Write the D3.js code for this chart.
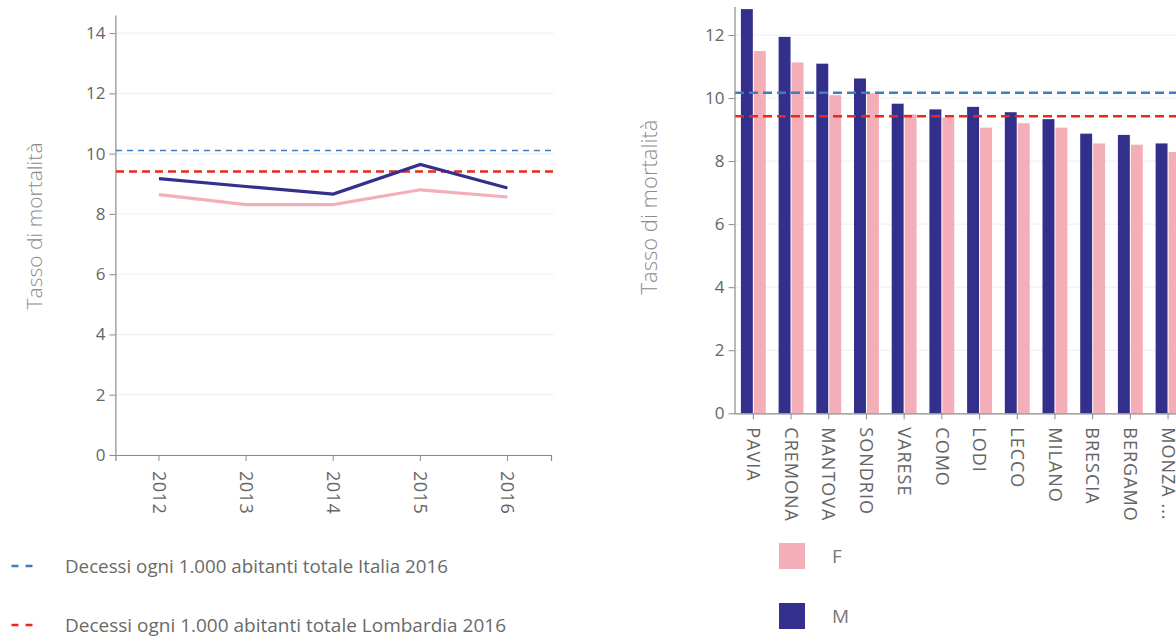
<!DOCTYPE html>
<html><head><meta charset="utf-8">
<script src="https://cdn.jsdelivr.net/npm/d3@7"></script>
<style>
html,body{margin:0;padding:0;background:#fff;overflow:hidden}
text{font-family:"Open Sans",sans-serif}
</style></head>
<body><svg id="c" width="1176" height="636"></svg>
<script>
// ---- data ----
const years = ["2012","2013","2014","2015","2016"];
const trendM = [9.17, 8.91, 8.66, 9.64, 8.86];
const trendF = [8.64, 8.31, 8.31, 8.80, 8.56];
const provinces = ["PAVIA","CREMONA","MANTOVA","SONDRIO","VARESE","COMO","LODI","LECCO","MILANO","BRESCIA","BERGAMO","MONZA ..."];
const provM = [12.82, 11.94, 11.09, 10.62, 9.82, 9.64, 9.72, 9.55, 9.33, 8.87, 8.83, 8.56];
const provF = [11.49, 11.13, 10.09, 10.15, 9.48, 9.38, 9.06, 9.20, 9.06, 8.56, 8.52, 8.29];
const refItalia = [10.1, 10.17];      // left chart, right chart
const refLombardia = [9.41, 9.42];
const leftTicks = [0,2,4,6,8,10,12,14];
const rightTicks = [0,2,4,6,8,10,12];
const legendLabels = ["Decessi ogni 1.000 abitanti totale Italia 2016","Decessi ogni 1.000 abitanti totale Lombardia 2016"];
const sexLabels = ["F","M"];

const COL_M = "#332f8c", COL_F = "#f4aeb8", COL_IT = "#3f7dc0", COL_LO = "#e8291c";
const svg = d3.select("#c");

function styleAxis(g, fs){
  g.selectAll("path.domain").attr("stroke","#8a8a8a").attr("stroke-width",1.2);
  g.selectAll(".tick line").attr("stroke","#8a8a8a");
  g.selectAll(".tick text").attr("fill","#666").style("font-size",fs+"px").style("font-family","'Open Sans',sans-serif");
}

// ---------- LEFT CHART ----------
{
  const x = d3.scaleBand().domain(years).range([115.4, 551]);
  const y = d3.scaleLinear().domain([0, 14.6]).range([455, 15]);
  svg.append("g").selectAll("line").data(leftTicks.slice(1)).join("line")
    .attr("x1",116).attr("x2",554).attr("y1",d=>y(d)).attr("y2",d=>y(d))
    .attr("stroke","#eeeeee").attr("stroke-width",1);
  const ya = svg.append("g").attr("transform","translate(115.4,0)")
    .call(d3.axisLeft(y).tickValues(leftTicks).tickSizeOuter(0).tickPadding(4));
  styleAxis(ya, 17);
  const xa = svg.append("g").attr("transform","translate(0,455)")
    .call(d3.axisBottom(x).tickSizeOuter(6).tickPadding(8));
  styleAxis(xa, 18);
  xa.selectAll(".tick text").attr("transform","rotate(90)").attr("text-anchor","start")
    .attr("x",16).attr("y",0).attr("dy","0.35em").style("letter-spacing","0.5px");
  // ref lines
  svg.append("line").attr("x1",116).attr("x2",554).attr("y1",y(refItalia[0])).attr("y2",y(refItalia[0]))
    .attr("stroke",COL_IT).attr("stroke-width",1.5).attr("stroke-dasharray","6,5");
  svg.append("line").attr("x1",116).attr("x2",554).attr("y1",y(refLombardia[0])).attr("y2",y(refLombardia[0]))
    .attr("stroke",COL_LO).attr("stroke-width",2.5).attr("stroke-dasharray","8,5");
  const line = d3.line().x((d,i)=>x(years[i])+x.bandwidth()/2).y(d=>y(d));
  svg.append("path").datum(trendF).attr("d",line).attr("fill","none").attr("stroke",COL_F).attr("stroke-width",3.2);
  svg.append("path").datum(trendM).attr("d",line).attr("fill","none").attr("stroke",COL_M).attr("stroke-width",3.2);
  svg.append("text").attr("transform","translate(42,226) rotate(-90)").attr("text-anchor","middle")
    .attr("fill","#8c8c8c").style("font-size","21px").style("font-weight","300").text("Tasso di mortalità");
  // legend
  const lg = svg.append("g");
  [COL_IT, COL_LO].forEach((c,i)=>{
    const yy = [566, 625][i];
    lg.append("line").attr("x1",11.5).attr("x2",38.5).attr("y1",yy).attr("y2",yy)
      .attr("stroke",c).attr("stroke-width",2.5).attr("stroke-dasharray","7,7");
    lg.append("text").attr("x",65).attr("y",yy+6.5).attr("fill","#6a6a6a").style("font-size","18px")
      .attr("textLength",[383,441][i]).attr("lengthAdjust","spacingAndGlyphs").text(legendLabels[i]);
  });
}

// ---------- RIGHT CHART ----------
{
  const x0 = d3.scaleBand().domain(provinces).range([734.5, 734.5+12*37.7]).paddingInner(0.34).paddingOuter(0.17);
  const x1 = d3.scaleBand().domain(["M","F"]).range([0, x0.bandwidth()]).paddingInner(0.08);
  const y = d3.scaleLinear().domain([0, 12.9]).range([413.3, 6.6]);
  svg.append("g").selectAll("line").data(rightTicks.slice(1)).join("line")
    .attr("x1",736).attr("x2",1200).attr("y1",d=>y(d)).attr("y2",d=>y(d))
    .attr("stroke","#eeeeee").attr("stroke-width",1);
  const bars = svg.append("g").selectAll("g").data(provinces).join("g")
    .attr("transform",d=>`translate(${x0(d)},0)`);
  bars.append("rect").attr("x",x1("M")).attr("width",x1.bandwidth())
    .attr("y",(d,i)=>y(provM[i])).attr("height",(d,i)=>y(0)-y(provM[i])).attr("fill",COL_M);
  bars.append("rect").attr("x",x1("F")).attr("width",x1.bandwidth())
    .attr("y",(d,i)=>y(provF[i])).attr("height",(d,i)=>y(0)-y(provF[i])).attr("fill",COL_F);
  svg.append("line").attr("x1",735).attr("x2",1200).attr("y1",y(refItalia[1])).attr("y2",y(refItalia[1]))
    .attr("stroke",COL_IT).attr("stroke-width",2.5).attr("stroke-dasharray","9,5");
  svg.append("line").attr("x1",735).attr("x2",1200).attr("y1",y(refLombardia[1])).attr("y2",y(refLombardia[1]))
    .attr("stroke",COL_LO).attr("stroke-width",2.5).attr("stroke-dasharray","9,5");
  const ya = svg.append("g").attr("transform","translate(734.5,0)")
    .call(d3.axisLeft(y).tickValues(rightTicks).tickSizeOuter(0).tickPadding(4));
  styleAxis(ya, 17);
  const xa = svg.append("g").attr("transform","translate(0,413.3)")
    .call(d3.axisBottom(x0).tickSizeOuter(0).tickPadding(8));
  styleAxis(xa, 18);
  xa.select("path.domain").attr("d","M734.5,0.5H1200");
  xa.selectAll(".tick text").attr("transform","rotate(90)").attr("text-anchor","start")
    .attr("x",14).attr("y",0).attr("dy","0.35em").style("letter-spacing","1px");
  svg.append("text").attr("transform","translate(657,207) rotate(-90)").attr("text-anchor","middle")
    .attr("fill","#8c8c8c").style("font-size","22px").style("font-weight","300").text("Tasso di mortalità");
  const lg = svg.append("g");
  [COL_F, COL_M].forEach((c,i)=>{
    const yy = [556, 616][i];
    lg.append("rect").attr("x",779).attr("y",yy-13).attr("width",26).attr("height",26).attr("fill",c);
    lg.append("text").attr("x",832).attr("y",yy+7).attr("fill","#777").style("font-size","19px").text(sexLabels[i]);
  });
}
</script></body></html>
